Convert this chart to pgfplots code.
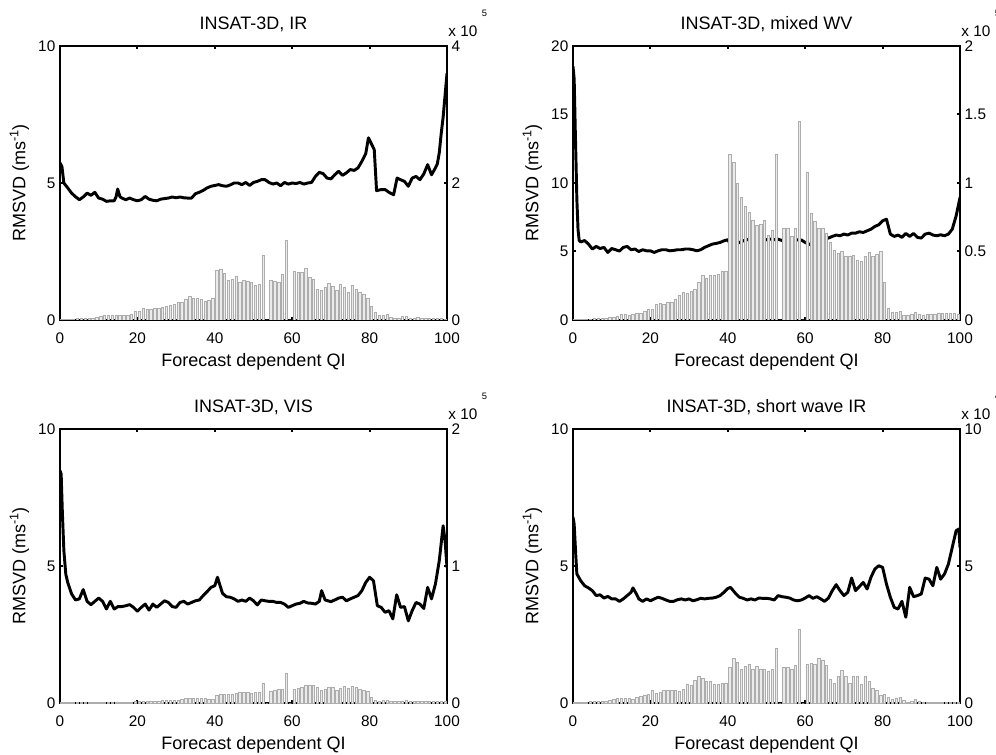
\documentclass[border=0pt]{standalone}
\usepackage{fontspec}
\setmainfont{Liberation Sans}
\usepackage{pgfplots}
\pgfplotsset{compat=1.18}
\usepackage{pgfplotstable}

\newcommand\tfont{\fontsize{11.5}{13}\selectfont}
\newcommand\lfont{\fontsize{13.5}{15}\selectfont}
\newcommand\efont{\fontsize{7}{8}\selectfont}

\pgfplotstableread{
x c1 c2 c3 c4
0.5 0.010 0.005 0.002 0.01
1.5 0.010 0.005 0.002 0.02
2.5 0.015 0.005 0.002 0.02
3.5 0.015 0.005 0.002 0.03
4.5 0.024 0.007 0.002 0.05
5.5 0.024 0.010 0.002 0.05
6.5 0.024 0.010 0.002 0.05
7.5 0.024 0.012 0.002 0.05
8.5 0.024 0.015 0.002 0.06
9.5 0.039 0.020 0.002 0.11
10.5 0.058 0.022 0.004 0.12
11.5 0.068 0.025 0.004 0.18
12.5 0.073 0.044 0.004 0.18
13.5 0.073 0.040 0.004 0.17
14.5 0.073 0.032 0.004 0.16
15.5 0.068 0.044 0.004 0.13
16.5 0.063 0.049 0.004 0.19
17.5 0.063 0.051 0.004 0.24
18.5 0.088 0.061 0.004 0.28
19.5 0.122 0.080 0.010 0.33
20.5 0.131 0.080 0.012 0.45
21.5 0.175 0.114 0.012 0.34
22.5 0.151 0.122 0.012 0.39
23.5 0.161 0.114 0.012 0.45
24.5 0.175 0.129 0.012 0.45
25.5 0.175 0.129 0.015 0.45
26.5 0.185 0.151 0.017 0.45
27.5 0.195 0.180 0.020 0.43
28.5 0.209 0.200 0.022 0.51
29.5 0.224 0.195 0.022 0.67
30.5 0.263 0.207 0.022 0.65
31.5 0.263 0.224 0.027 0.82
32.5 0.307 0.272 0.032 0.96
33.5 0.345 0.324 0.032 0.91
34.5 0.321 0.307 0.032 0.80
35.5 0.316 0.324 0.032 0.78
36.5 0.302 0.326 0.032 0.69
37.5 0.272 0.334 0.032 0.68
38.5 0.292 0.358 0.030 0.73
39.5 0.316 0.353 0.027 0.72
40.5 0.730 1.210 0.058 1.31
41.5 0.745 1.150 0.066 1.62
42.5 0.680 1.000 0.066 1.48
43.5 0.580 0.895 0.066 1.24
44.5 0.600 0.830 0.063 1.33
45.5 0.640 0.786 0.070 1.42
46.5 0.545 0.727 0.075 1.22
47.5 0.584 0.690 0.075 1.33
48.5 0.560 0.700 0.078 1.22
49.5 0.550 0.727 0.070 1.22
50.5 0.500 0.615 0.075 1.14
51.5 0.516 0.652 0.075 1.22
52.5 0.944 1.210 0.141 2.01
53.5 0 0 0 0
54.5 0.584 0.667 0.083 1.31
55.5 0.565 0.670 0.092 1.29
56.5 0.550 0.613 0.097 1.22
57.5 0.660 0.670 0.100 1.36
58.5 1.170 1.450 0.219 2.68
59.5 0 0 0 0
60.5 0.710 1.075 0.100 1.40
61.5 0.700 0.780 0.109 1.44
62.5 0.700 0.720 0.114 1.40
63.5 0.750 0.670 0.127 1.62
64.5 0.630 0.670 0.131 1.56
65.5 0.600 0.630 0.131 1.36
66.5 0.450 0.570 0.112 0.88
67.5 0.430 0.510 0.090 0.73
68.5 0.480 0.487 0.102 0.99
69.5 0.540 0.500 0.114 1.18
70.5 0.490 0.462 0.112 0.97
71.5 0.430 0.467 0.092 0.73
72.5 0.525 0.474 0.107 0.97
73.5 0.480 0.438 0.119 0.97
74.5 0.410 0.430 0.109 0.67
75.5 0.510 0.462 0.119 0.97
76.5 0.450 0.494 0.117 0.79
77.5 0.410 0.462 0.100 0.52
78.5 0.380 0.480 0.090 0.47
79.5 0.320 0.500 0.083 0.28
80.5 0.200 0.275 0.039 0.30
81.5 0.110 0.085 0.020 0.21
82.5 0.063 0.054 0.015 0.13
83.5 0.073 0.058 0.017 0.16
84.5 0.083 0.061 0.022 0.19
85.5 0.039 0.036 0.015 0.11
86.5 0.030 0.036 0.010 0.04
87.5 0.030 0.044 0.010 0.08
88.5 0.058 0.054 0.015 0.12
89.5 0.049 0.044 0.017 0.08
90.5 0.030 0.036 0.012 0.04
91.5 0.020 0.040 0.010 0.02
92.5 0.039 0.045 0.010 0.03
93.5 0.030 0.045 0.010 0.02
94.5 0.020 0.046 0.010 0.02
95.5 0.024 0.046 0.010 0.02
96.5 0.024 0.046 0.010 0.02
97.5 0.024 0.048 0.010 0.02
98.5 0.020 0.046 0.010 0.02
99.5 0.015 0.042 0.010 0.02
}\bars

\pgfplotstableread{
x y
0 5.73
0.5 5.6
1 5.0
2 4.82
3 4.63
4 4.5
5 4.39
6 4.49
7 4.63
8 4.55
9 4.66
10 4.45
11 4.41
12 4.33
13 4.35
14 4.35
14.5 4.5
14.9 4.78
15.5 4.5
16 4.45
17 4.39
18 4.45
19 4.39
20 4.35
21 4.39
22 4.51
23 4.41
24 4.37
25 4.35
26 4.41
27 4.43
28 4.45
29 4.49
30 4.46
31 4.49
32 4.46
33 4.45
34 4.45
35 4.61
36 4.66
37 4.73
38 4.82
39 4.88
40 4.91
41 4.94
42 4.9
43 4.88
44 4.93
45 5.0
46 5.0
47 4.94
48 5.02
49 4.91
50 5.02
51 5.06
52 5.12
53 5.12
54 5.02
55 4.96
56 5.0
57 4.9
58 5.02
59 4.96
60 5.0
61 4.98
62 5.02
63 4.96
64 5.0
65 5.02
66 5.24
67 5.39
68 5.34
69 5.18
70 5.15
71 5.3
72 5.43
73 5.28
74 5.37
75 5.49
76 5.46
77 5.55
78 5.79
79 6.07
79.7 6.65
81.2 6.22
81.8 4.72
83 4.76
84 4.76
85 4.66
86.2 4.57
87.1 5.18
88 5.12
89 5.06
90 4.88
91 5.18
92 5.24
93 5.12
94 5.33
95 5.67
96 5.3
97 5.55
97.5 5.7
98 6.1
98.5 6.8
99 7.4
99.5 8.2
100 9.0
}\lineA

\pgfplotstableread{
x y
0 18.5
0.3 17.6
0.6 13.7
1 8.8
1.3 6.6
1.6 5.8
2 5.7
3 5.8
4 5.54
5 5.18
6 5.37
7 5.22
8 5.3
9 4.93
10 5.22
11 5.13
12 5.03
13 5.3
14 5.37
15 5.13
16 5.18
17 5.0
18 5.13
19 5.05
20 5.05
21 4.93
22 5.05
23 5.13
24 5.13
25 5.05
26 5.08
27 5.13
28 5.13
29 5.18
30 5.18
31 5.13
32 5.05
33 5.13
34 5.3
35 5.42
36 5.54
37 5.59
38 5.66
39 5.78
40 5.86
41 5.37
42 5.54
43 5.66
44 5.78
45 5.86
46 5.86
47 5.86
48 5.83
49 5.78
50 5.86
51 5.9
52 5.86
53 5.9
54 5.8
55 5.76
56 5.8
57 5.73
58 5.86
59 5.84
60 5.66
61 5.49
62 5.7
63 5.86
64 5.9
65 5.95
66 5.98
67 6.1
68 6.2
69 6.15
70 6.27
71 6.2
72 6.34
73 6.34
74 6.44
75 6.39
76 6.51
77 6.63
78 6.83
79 6.95
80 7.24
81 7.36
82 6.27
83 6.1
84 6.2
85 6.03
86 6.32
87 6.1
88 6.32
89 6.03
90 5.98
91 6.27
92 6.34
93 6.2
94 6.15
95 6.22
96 6.15
97 6.27
98 6.63
99 7.6
100 8.94
}\lineB

\pgfplotstableread{
x y
0 8.48
0.3 8.36
0.6 7.0
1 5.56
1.5 4.7
2 4.4
3 3.98
4 3.76
5 3.8
6 4.14
7 3.71
8 3.59
9 3.71
10 3.83
11 3.71
12 3.43
13 3.71
14 3.43
15 3.52
16 3.52
17 3.55
18 3.59
19 3.49
20 3.35
21 3.49
22 3.61
23 3.39
24 3.61
25 3.49
26 3.61
27 3.73
28 3.67
29 3.52
30 3.49
31 3.67
32 3.71
33 3.61
34 3.67
35 3.73
36 3.76
37 3.92
38 4.06
39 4.22
40 4.28
40.7 4.59
41.5 4.22
42 4.0
43 3.88
44 3.86
45 3.8
46 3.71
47 3.76
48 3.71
49 3.83
50 3.73
51 3.58
52 3.76
53 3.73
54 3.71
55 3.71
56 3.67
57 3.67
58 3.61
59 3.49
60 3.55
61 3.61
62 3.64
63 3.71
64 3.65
65 3.64
66 3.61
67 3.71
67.6 4.1
68.5 3.76
70 3.7
71 3.76
72 3.83
73 3.86
74 3.73
75 3.8
76 3.86
77 3.92
78 4.1
79 4.4
80 4.59
81 4.46
82 3.55
83 3.49
84 3.31
85 3.37
86 3.07
87 3.95
88 3.49
89 3.52
90 3.0
91 3.37
92 3.67
93 3.61
94 3.45
95 4.22
96 3.8
97 4.34
98 5.19
99 6.47
99.5 5.92
100 4.95
}\lineC

\pgfplotstableread{
x y
0 6.78
0.3 6.53
0.7 5.44
1 4.71
2 4.46
3 4.28
4 4.2
5 4.1
6 3.92
7 3.95
8 3.83
9 3.89
10 3.8
11 3.8
12 3.71
13 3.8
14 3.92
15 4.04
15.5 4.2
16.5 3.95
17 3.8
18 3.71
19 3.8
20 3.73
21 3.8
22 3.86
23 3.82
24 3.76
25 3.71
26 3.71
27 3.77
28 3.8
29 3.76
30 3.8
31 3.73
32 3.77
33 3.82
34 3.8
35 3.82
36 3.83
37 3.86
38 3.92
39 4.04
40 4.18
40.7 4.22
42 4.0
43 3.86
44 3.82
45 3.76
46 3.8
47 3.76
48 3.83
49 3.82
50 3.82
51 3.8
52 3.76
53 3.92
54 3.88
55 3.86
56 3.83
57 3.76
58 3.73
59 3.76
60 3.83
61 3.92
62 3.82
63 3.88
64 3.8
65 3.71
66 3.83
67 4.1
68 4.32
69 4.1
70 3.92
71 4.04
72 4.56
73 4.1
74 4.25
75 4.4
76 4.16
77 4.59
78 4.89
79 5.01
80 4.95
81 4.34
82 3.86
83 3.49
84 3.43
85 3.71
86 3.13
87 4.22
88 3.88
89 3.92
90 3.98
91 4.56
92 4.52
93 4.28
94 4.95
95 4.52
96 4.71
97 5.07
98 5.68
99 6.29
99.7 6.35
100 5.68
}\lineD

\pgfplotsset{
  common/.style={
    scale only axis, width=290.25pt, height=205.5pt,
    xmin=0, xmax=100, ymin=0,
    tick align=inside,
    axis line style={line width=1.5pt, -},
    major tick length=2.2pt,
    tick style={black, line width=1.5pt},
    tick label style={font=\tfont},
    /pgf/number format/assume math mode=true,
  },
  panelL/.style={
    common,
    xtick={0,20,40,60,80,100},
    ytick pos=left,
    xticklabel style={yshift=-6pt},
    xlabel={Forecast dependent QI},
    ylabel={RMSVD (ms\textsuperscript{-1})},
    label style={font=\lfont},
    xlabel style={yshift=-0.5pt},
    title style={font=\lfont, yshift=1pt},
  },
  panelR/.style={
    common,
    axis x line=none, axis y line*=right,
    ybar, bar width=0.62,
  },
  barstyle/.style={fill=black!8, draw=black!32, line width=0.45pt},
  linestyle/.style={black, line width=2.2pt, line join=round, line cap=round},
}

\begin{document}
\begin{tikzpicture}
\path[use as bounding box] (0,0) rectangle (747pt,565.5pt);

% Panel 1
\begin{axis}[panelL, at={(45pt,325.5pt)}, anchor=south west, ymax=10, ytick={0,5,10}, title={INSAT-3D, IR}]
\addplot[linestyle] table[x=x,y=y]{\lineA};
\end{axis}
\begin{axis}[panelR, name=p1r, at={(45pt,325.5pt)}, anchor=south west, ymax=4, ytick={0,2,4}]
\addplot[barstyle] table[x=x,y=c1]{\bars};
\end{axis}
\node[anchor=base west, font=\tfont, inner sep=0] at ([xshift=0.8pt,yshift=6.75pt]p1r.north east) {x 10};
\node[anchor=base west, font=\efont, inner sep=0] at ([xshift=26pt,yshift=22pt]p1r.north east) {5};

% Panel 2
\begin{axis}[panelL, at={(429.75pt,325.5pt)}, anchor=south west, ymax=20, ytick={0,5,10,15,20}, title={INSAT-3D, mixed WV}]
\addplot[linestyle] table[x=x,y=y]{\lineB};
\end{axis}
\begin{axis}[panelR, name=p2r, at={(429.75pt,325.5pt)}, anchor=south west, ymax=2, ytick={0,0.5,1,1.5,2}, yticklabels={0,0.5,1,1.5,2}]
\addplot[barstyle] table[x=x,y=c2]{\bars};
\end{axis}
\node[anchor=base west, font=\tfont, inner sep=0] at ([xshift=0.8pt,yshift=6.75pt]p2r.north east) {x 10};
\node[anchor=base west, font=\efont, inner sep=0] at ([xshift=26pt,yshift=22pt]p2r.north east) {5};

% Panel 3
\begin{axis}[panelL, at={(45pt,38.25pt)}, anchor=south west, ymax=10, ytick={0,5,10}, title={INSAT-3D, VIS}]
\addplot[linestyle] table[x=x,y=y]{\lineC};
\end{axis}
\begin{axis}[panelR, name=p3r, at={(45pt,38.25pt)}, anchor=south west, ymax=2, ytick={0,1,2}]
\addplot[barstyle] table[x=x,y=c3]{\bars};
\end{axis}
\node[anchor=base west, font=\tfont, inner sep=0] at ([xshift=0.8pt,yshift=6.75pt]p3r.north east) {x 10};
\node[anchor=base west, font=\efont, inner sep=0] at ([xshift=26pt,yshift=22pt]p3r.north east) {5};

% Panel 4
\begin{axis}[panelL, at={(429.75pt,38.25pt)}, anchor=south west, ymax=10, ytick={0,5,10}, title={INSAT-3D, short wave IR}]
\addplot[linestyle] table[x=x,y=y]{\lineD};
\end{axis}
\begin{axis}[panelR, name=p4r, at={(429.75pt,38.25pt)}, anchor=south west, ymax=10, ytick={0,5,10}]
\addplot[barstyle] table[x=x,y=c4]{\bars};
\end{axis}
\node[anchor=base west, font=\tfont, inner sep=0] at ([xshift=0.8pt,yshift=6.75pt]p4r.north east) {x 10};
\node[anchor=base west, font=\efont, inner sep=0] at ([xshift=26pt,yshift=22pt]p4r.north east) {4};

\end{tikzpicture}
\end{document}
